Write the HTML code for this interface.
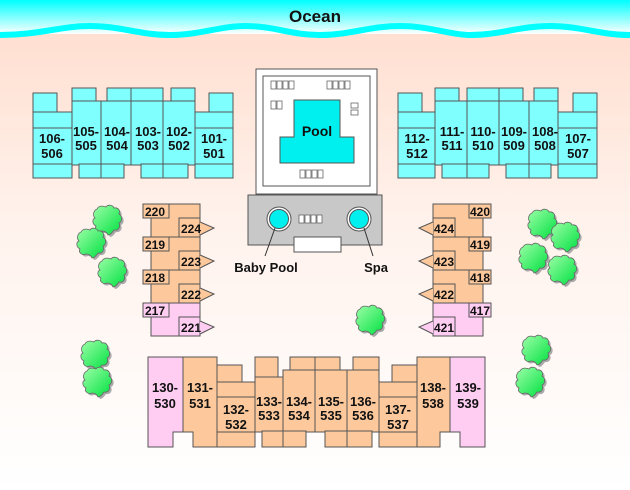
<!DOCTYPE html>
<html><head><meta charset="utf-8"><style>
html,body{margin:0;padding:0;background:#fff}
svg{display:block}
text{font-family:"Liberation Sans",sans-serif;font-weight:bold;fill:#111}
</style></head><body>
<svg width="630" height="490" viewBox="0 0 630 490" xmlns="http://www.w3.org/2000/svg">
<defs>
<linearGradient id="sea" x1="0" y1="0" x2="0" y2="1"><stop offset="0" stop-color="#00ffff"/><stop offset="1" stop-color="#ffffff"/></linearGradient>
<linearGradient id="sand" x1="0" y1="0" x2="0" y2="1"><stop offset="0" stop-color="#ffdccc"/><stop offset="0.45" stop-color="#fff2ec"/><stop offset="1" stop-color="#ffffff"/></linearGradient>
<linearGradient id="tg" x1="0" y1="0" x2="1" y2="1"><stop offset="0" stop-color="#9dffa8"/><stop offset="1" stop-color="#00e040"/></linearGradient>
<symbol id="tree" viewBox="-16 -16 32 32" overflow="visible">
<path d="M-10,-11 C-8,-15 -3,-14 -1,-13 C1,-16 6,-15 7,-12 C11,-13 14,-9 12,-6 C16,-4 15,2 12,3 C14,7 11,11 7,10 C5,13 3,15 1,15 C0,12 -3,11 -5,11 C-9,13 -13,9 -11,6 C-15,4 -15,-1 -12,-2 C-15,-5 -13,-10 -10,-11 Z" fill="#aaa" transform="translate(2,2)"/>
<path d="M-10,-11 C-8,-15 -3,-14 -1,-13 C1,-16 6,-15 7,-12 C11,-13 14,-9 12,-6 C16,-4 15,2 12,3 C14,7 11,11 7,10 C5,13 3,15 1,15 C0,12 -3,11 -5,11 C-9,13 -13,9 -11,6 C-15,4 -15,-1 -12,-2 C-15,-5 -13,-10 -10,-11 Z" fill="url(#tg)" stroke="#666" stroke-width="0.8"/>
</symbol>
</defs>
<rect width="630" height="490" fill="url(#sand)"/>
<rect width="630" height="34" fill="url(#sea)"/>
<path d="M0,35 C40,35 60,26 90,26 C120,26 140,35 170,35 C200,35 220,26 245,26 C275,26 290,35 320,35 C350,35 370,26 400,26 C430,26 450,35 470,35 C500,35 520,26 550,26 C580,26 600,35 630,35" fill="none" stroke="#00ffff" stroke-width="6"/>
<path d="M0,38 L0,0 630,0 630,38" fill="none"/>
<text x="315" y="22" font-size="17" text-anchor="middle" font-weight="normal" style="font-weight:bold">Ocean</text>

<!-- top left building -->
<g fill="#80ffff" stroke="#555" stroke-width="1">
<rect x="33" y="93" width="24" height="20"/><rect x="33" y="112" width="39" height="66"/>
<line x1="33" y1="128" x2="72" y2="128"/><line x1="33" y1="164" x2="72" y2="164"/>
<rect x="72" y="88" width="24" height="14"/><rect x="72" y="101" width="29" height="64"/><rect x="79" y="164" width="22" height="14"/>
<rect x="107" y="88" width="24" height="14"/><rect x="101" y="101" width="30" height="64"/><rect x="101" y="164" width="23" height="14"/>
<rect x="131" y="88" width="32" height="14"/><rect x="131" y="101" width="32" height="64"/><rect x="141" y="164" width="22" height="14"/>
<rect x="171" y="88" width="24" height="14"/><rect x="163" y="101" width="32" height="64"/><rect x="163" y="164" width="25" height="14"/>
<rect x="209" y="93" width="24" height="20"/><rect x="195" y="112" width="38" height="66"/>
<line x1="195" y1="128" x2="233" y2="128"/><line x1="195" y1="164" x2="233" y2="164"/>
</g>
<g fill="#80ffff" stroke="#555" stroke-width="1">
<rect x="573" y="93" width="24" height="20"/><rect x="558" y="112" width="39" height="66"/>
<line x1="558" y1="128" x2="597" y2="128"/><line x1="558" y1="164" x2="597" y2="164"/>
<rect x="534" y="88" width="24" height="14"/><rect x="529" y="101" width="29" height="64"/><rect x="529" y="164" width="22" height="14"/>
<rect x="499" y="88" width="24" height="14"/><rect x="499" y="101" width="30" height="64"/><rect x="506" y="164" width="23" height="14"/>
<rect x="467" y="88" width="32" height="14"/><rect x="467" y="101" width="32" height="64"/><rect x="467" y="164" width="22" height="14"/>
<rect x="435" y="88" width="24" height="14"/><rect x="435" y="101" width="32" height="64"/><rect x="442" y="164" width="25" height="14"/>
<rect x="398" y="93" width="24" height="20"/><rect x="398" y="112" width="37" height="66"/>
<line x1="398" y1="128" x2="435" y2="128"/><line x1="398" y1="164" x2="435" y2="164"/>
</g>
<g font-size="13" text-anchor="middle">
<text x="52" y="143">106-</text><text x="52" y="158">506</text>
<text x="86" y="136">105-</text><text x="86" y="150">505</text>
<text x="117" y="136">104-</text><text x="117" y="150">504</text>
<text x="148" y="136">103-</text><text x="148" y="150">503</text>
<text x="179" y="136">102-</text><text x="179" y="150">502</text>
<text x="214" y="143">101-</text><text x="214" y="158">501</text>
<text x="417" y="143">112-</text><text x="417" y="158">512</text>
<text x="452" y="136">111-</text><text x="452" y="150">511</text>
<text x="483" y="136">110-</text><text x="483" y="150">510</text>
<text x="514" y="136">109-</text><text x="514" y="150">509</text>
<text x="545" y="136">108-</text><text x="545" y="150">508</text>
<text x="578" y="143">107-</text><text x="578" y="158">507</text>
</g>

<!-- pool area -->
<rect x="256" y="69" width="121" height="125" fill="#fff" stroke="#555"/>
<rect x="263" y="76" width="107" height="110" fill="#fff" stroke="#555"/>
<path d="M294,100 H340 V137 H354 V163 H280 V137 H294 Z" fill="#00f0f0" stroke="#555"/>
<text x="317" y="136" font-size="14" text-anchor="middle">Pool</text>
<g fill="none" stroke="#666" stroke-width="0.8">
<rect x="271" y="81" width="5" height="8"/><rect x="277" y="81" width="5" height="8"/><rect x="283" y="81" width="5" height="8"/><rect x="289" y="81" width="5" height="8"/>
<rect x="327" y="81" width="5" height="8"/><rect x="333" y="81" width="5" height="8"/><rect x="339" y="81" width="5" height="8"/><rect x="345" y="81" width="5" height="8"/>
<rect x="271" y="101" width="5" height="8"/><rect x="277" y="101" width="5" height="8"/>
<rect x="351" y="103" width="7" height="5"/><rect x="351" y="110" width="7" height="5"/>
<rect x="300" y="170" width="5" height="8"/><rect x="306" y="170" width="5" height="8"/><rect x="312" y="170" width="5" height="8"/><rect x="318" y="170" width="5" height="8"/>
</g>
<rect x="248" y="195" width="134" height="50" fill="#c8c8c8" stroke="#555"/>
<circle cx="279" cy="219" r="12" fill="#fff" stroke="#555"/><circle cx="279" cy="219" r="9.5" fill="#00f0f0" stroke="#555"/>
<circle cx="359" cy="219" r="12" fill="#fff" stroke="#555"/><circle cx="359" cy="219" r="9.5" fill="#00f0f0" stroke="#555"/>
<g fill="#fff" stroke="#666" stroke-width="0.8">
<rect x="299" y="215" width="5" height="8"/><rect x="305" y="215" width="5" height="8"/><rect x="311" y="215" width="5" height="8"/><rect x="317" y="215" width="5" height="8"/>
</g>
<rect x="294" y="237" width="47" height="15" fill="#fff" stroke="#555"/>
<line x1="275" y1="228" x2="265" y2="256" stroke="#333"/>
<line x1="364" y1="228" x2="373" y2="256" stroke="#333"/>
<text x="266" y="272" font-size="13" text-anchor="middle">Baby Pool</text>
<text x="376" y="272" font-size="13" text-anchor="middle">Spa</text>

<!-- left wing -->
<g stroke="#555" stroke-width="1">
<g fill="#fdc89c">
<rect x="151" y="204" width="49" height="33"/><rect x="143" y="204" width="26" height="14"/><rect x="179" y="218" width="21" height="19"/><path d="M200,222 L214,228 L200,235" />
<rect x="151" y="237" width="49" height="33"/><rect x="143" y="237" width="26" height="14"/><rect x="179" y="251" width="21" height="19"/><path d="M200,255 L214,261 L200,268" />
<rect x="151" y="270" width="49" height="33"/><rect x="143" y="270" width="26" height="14"/><rect x="179" y="284" width="21" height="19"/><path d="M200,288 L214,294 L200,301" />
</g>
<g fill="#ffccf2">
<rect x="151" y="303" width="49" height="33"/><rect x="143" y="303" width="26" height="14"/><rect x="179" y="317" width="21" height="19"/><path d="M200,321 L214,327 L200,334" />
</g>
</g>
<!-- right wing -->
<g stroke="#555" stroke-width="1">
<g fill="#fdc89c">
<rect x="433" y="204" width="50" height="33"/><rect x="469" y="204" width="22" height="14"/><rect x="433" y="218" width="22" height="19"/><path d="M433,222 L419,228 L433,235" />
<rect x="433" y="237" width="50" height="33"/><rect x="469" y="237" width="22" height="14"/><rect x="433" y="251" width="22" height="19"/><path d="M433,255 L419,261 L433,268" />
<rect x="433" y="270" width="50" height="33"/><rect x="469" y="270" width="22" height="14"/><rect x="433" y="284" width="22" height="19"/><path d="M433,288 L419,294 L433,301" />
</g>
<g fill="#ffccf2">
<rect x="433" y="303" width="50" height="33"/><rect x="469" y="303" width="22" height="14"/><rect x="433" y="317" width="22" height="19"/><path d="M433,321 L419,327 L433,334" />
</g>
</g>
<g font-size="12">
<text x="145" y="216">220</text><text x="181" y="233">224</text>
<text x="145" y="249">219</text><text x="181" y="266">223</text>
<text x="145" y="282">218</text><text x="181" y="299">222</text>
<text x="145" y="315">217</text><text x="181" y="332">221</text>
<text x="470" y="216">420</text><text x="434" y="233">424</text>
<text x="470" y="249">419</text><text x="434" y="266">423</text>
<text x="470" y="282">418</text><text x="434" y="299">422</text>
<text x="470" y="315">417</text><text x="434" y="332">421</text>
</g>

<!-- bottom building -->
<g stroke="#555" stroke-width="1" fill="#fdc89c">
<path d="M148,357 H183 V432 H173 V447 H148 Z" fill="#ffccf2"/>
<path d="M183,357 H217 V447 H193 V432 H183 Z"/>
<rect x="217" y="365" width="25" height="18"/><rect x="217" y="382" width="38" height="65"/><line x1="217" y1="397" x2="255" y2="397"/><line x1="217" y1="432" x2="255" y2="432"/>
<rect x="255" y="357" width="23" height="20"/><rect x="255" y="377" width="28" height="55"/><rect x="262" y="431" width="21" height="16"/>
<rect x="290" y="357" width="25" height="20"/><rect x="283" y="370" width="32" height="62"/><rect x="283" y="431" width="23" height="16"/>
<rect x="315" y="357" width="25" height="20"/><rect x="315" y="370" width="32" height="62"/><rect x="325" y="431" width="22" height="16"/>
<rect x="353" y="357" width="26" height="20"/><rect x="347" y="370" width="32" height="62"/><rect x="347" y="431" width="25" height="16"/>
<rect x="392" y="365" width="25" height="18"/><rect x="379" y="382" width="38" height="65"/><line x1="379" y1="397" x2="417" y2="397"/><line x1="379" y1="432" x2="417" y2="432"/>
<path d="M417,357 H450 V432 H440 V447 H417 Z"/>
<path d="M450,357 H485 V447 H460 V432 H450 Z" fill="#ffccf2"/>
</g>
<g font-size="13" text-anchor="middle">
<text x="165" y="392">130-</text><text x="165" y="408">530</text>
<text x="200" y="392">131-</text><text x="200" y="408">531</text>
<text x="236" y="414">132-</text><text x="236" y="429">532</text>
<text x="269" y="406">133-</text><text x="269" y="420">533</text>
<text x="299" y="406">134-</text><text x="299" y="420">534</text>
<text x="331" y="406">135-</text><text x="331" y="420">535</text>
<text x="363" y="406">136-</text><text x="363" y="420">536</text>
<text x="398" y="414">137-</text><text x="398" y="429">537</text>
<text x="433" y="392">138-</text><text x="433" y="408">538</text>
<text x="468" y="392">139-</text><text x="468" y="408">539</text>
</g>

<!-- trees -->
<use href="#tree" x="91" y="204" width="32" height="32"/>
<use href="#tree" x="75" y="227" width="32" height="32"/>
<use href="#tree" x="96" y="256" width="32" height="32"/>
<use href="#tree" x="79" y="339" width="32" height="32"/>
<use href="#tree" x="81" y="366" width="32" height="32"/>
<use href="#tree" x="354" y="304" width="32" height="32"/>
<use href="#tree" x="526" y="208" width="32" height="32"/>
<use href="#tree" x="549" y="221" width="32" height="32"/>
<use href="#tree" x="517" y="242" width="32" height="32"/>
<use href="#tree" x="546" y="254" width="32" height="32"/>
<use href="#tree" x="520" y="334" width="32" height="32"/>
<use href="#tree" x="514" y="366" width="32" height="32"/>
</svg>
</body></html>
